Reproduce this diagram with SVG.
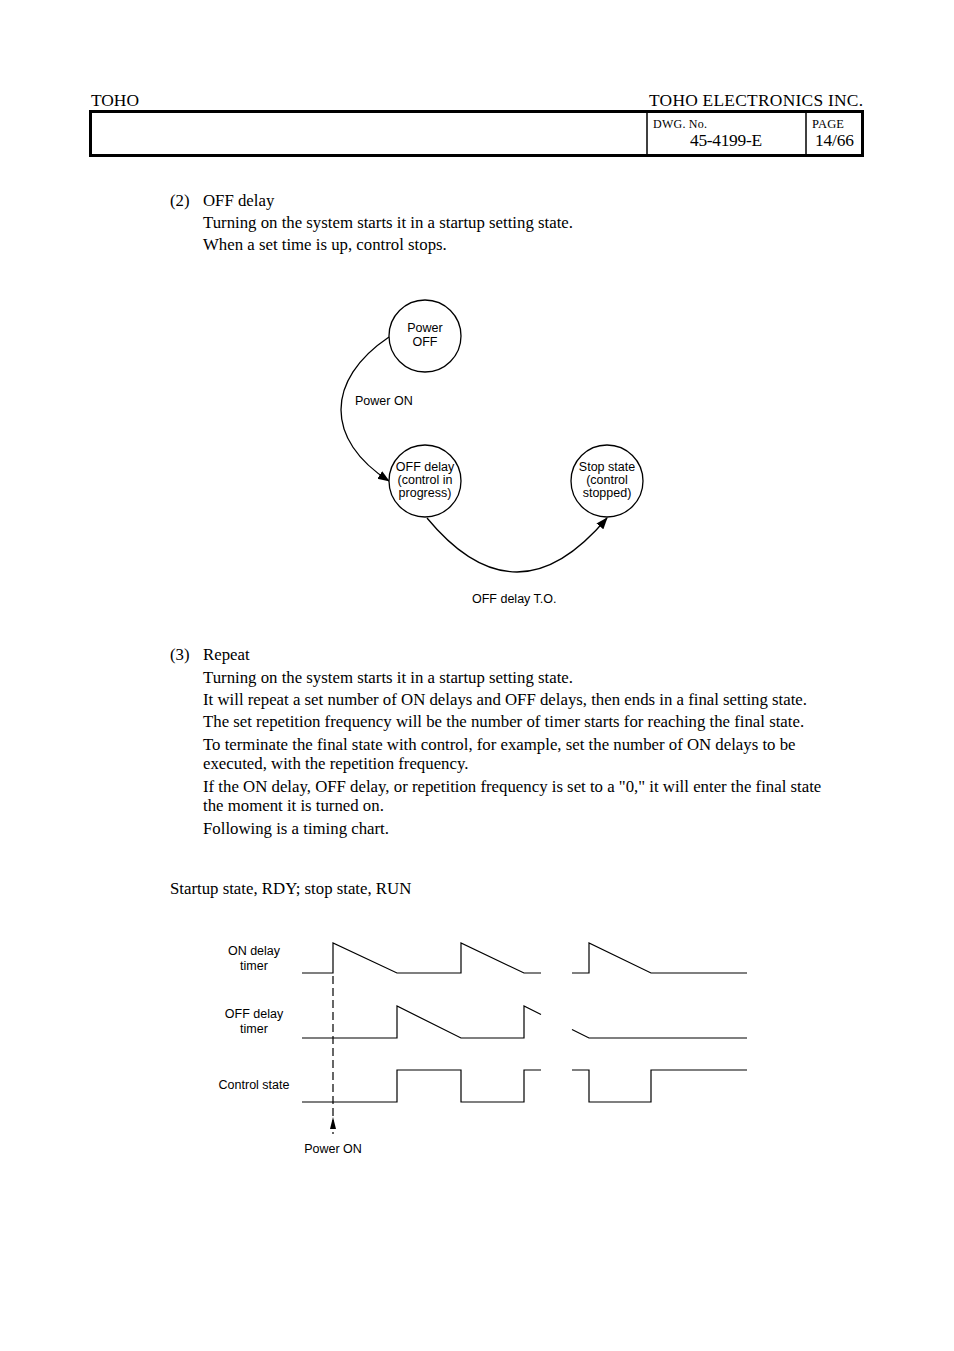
<svg xmlns="http://www.w3.org/2000/svg" width="954" height="1351" viewBox="0 0 954 1351">
<defs>
<style>
.serif{font-family:"Liberation Serif","Times New Roman",serif;fill:#000}
.body{font-size:16.8px}
.hdr{font-size:17.4px}
.sans{font-family:"Liberation Sans",Arial,sans-serif;font-size:12.5px;fill:#000}
.node{fill:#fff;stroke:#000;stroke-width:1.3}
.wire{fill:none;stroke:#000;stroke-width:1.3}
.wave{fill:none;stroke:#000;stroke-width:1.2}
</style>
<marker id="arr" viewBox="0 0 12 10" refX="11" refY="5" markerWidth="12" markerHeight="10" markerUnits="userSpaceOnUse" orient="auto">
<path d="M0,0.5 L12,5 L0,9.5 Z" fill="#000"/>
</marker>
</defs>
<rect width="954" height="1351" fill="#fff"/>

<g id="header">
<text class="serif hdr" x="91" y="106">TOHO</text>
<text class="serif hdr" x="863" y="106" text-anchor="end" textLength="214">TOHO ELECTRONICS INC.</text>
<rect x="90.5" y="111.5" width="772" height="44" fill="none" stroke="#000" stroke-width="3"/>
<line x1="647" y1="111" x2="647" y2="156" stroke="#000" stroke-width="1.5"/>
<line x1="806" y1="111" x2="806" y2="156" stroke="#000" stroke-width="1.5"/>
<text class="serif" x="653" y="128" font-size="12" textLength="54">DWG. No.</text>
<text class="serif hdr" x="690" y="146" textLength="72">45-4199-E</text>
<text class="serif" x="812" y="128" font-size="12.5" textLength="32">PAGE</text>
<text class="serif hdr" x="815" y="146" textLength="39">14/66</text>
</g>

<g id="section2-text">
<text class="serif body" x="170" y="206">(2)</text>
<text class="serif body" x="203" y="206">OFF delay</text>
<text class="serif body" x="203" y="228">Turning on the system starts it in a startup setting state.</text>
<text class="serif body" x="203" y="250">When a set time is up, control stops.</text>
</g>

<g id="connectors">
<path class="wire" d="M389,337 C325,380 325,440 389,481" marker-end="url(#arr)"/>
<path class="wire" d="M427,518 C460,558 490,572 517,572 C550,572 580,550 607,518" marker-end="url(#arr)"/>
<text class="sans" x="355" y="405">Power ON</text>
<text class="sans" x="472" y="603">OFF delay T.O.</text>
</g>

<g id="node-power-off">
<circle class="node" cx="425" cy="336" r="36"/>
<text class="sans" x="425" y="332" text-anchor="middle">Power</text>
<text class="sans" x="425" y="346" text-anchor="middle">OFF</text>
</g>
<g id="node-off-delay">
<circle class="node" cx="425" cy="481" r="36"/>
<text class="sans" x="425" y="471" text-anchor="middle">OFF delay</text>
<text class="sans" x="425" y="484" text-anchor="middle">(control in</text>
<text class="sans" x="425" y="497" text-anchor="middle">progress)</text>
</g>
<g id="node-stop">
<circle class="node" cx="607" cy="481" r="36"/>
<text class="sans" x="607" y="471" text-anchor="middle">Stop state</text>
<text class="sans" x="607" y="484" text-anchor="middle">(control</text>
<text class="sans" x="607" y="497" text-anchor="middle">stopped)</text>
</g>

<g id="section3-text">
<text class="serif body" x="170" y="660">(3)</text>
<text class="serif body" x="203" y="660">Repeat</text>
<text class="serif body" x="203" y="683">Turning on the system starts it in a startup setting state.</text>
<text class="serif body" x="203" y="705">It will repeat a set number of ON delays and OFF delays, then ends in a final setting state.</text>
<text class="serif body" x="203" y="727">The set repetition frequency will be the number of timer starts for reaching the final state.</text>
<text class="serif body" x="203" y="750">To terminate the final state with control, for example, set the number of ON delays to be</text>
<text class="serif body" x="203" y="769">executed, with the repetition frequency.</text>
<text class="serif body" x="203" y="792">If the ON delay, OFF delay, or repetition frequency is set to a "0," it will enter the final state</text>
<text class="serif body" x="203" y="811">the moment it is turned on.</text>
<text class="serif body" x="203" y="834">Following is a timing chart.</text>
<text class="serif body" x="170" y="894">Startup state, RDY; stop state, RUN</text>
</g>

<g id="timing-chart">
<text class="sans" x="254" y="955" text-anchor="middle">ON delay</text>
<text class="sans" x="254" y="970" text-anchor="middle">timer</text>
<text class="sans" x="254" y="1018" text-anchor="middle">OFF delay</text>
<text class="sans" x="254" y="1033" text-anchor="middle">timer</text>
<text class="sans" x="254" y="1089" text-anchor="middle">Control state</text>
<text class="sans" x="333" y="1153" text-anchor="middle">Power ON</text>

<polyline class="wave" points="302,973 333,973 333,943 397,973 461,973 461,943 524,973 541,973"/>
<polyline class="wave" points="572,973 589,973 589,943 651,973 747,973"/>

<polyline class="wave" points="302,1038 397,1038 397,1006 461,1038 524,1038 524,1006 541,1014.5"/>
<polyline class="wave" points="572,1029.5 589,1038 747,1038"/>

<polyline class="wave" points="302,1102 397,1102 397,1070 461,1070 461,1102 524,1102 524,1070 541,1070"/>
<polyline class="wave" points="572,1070 589,1070 589,1102 651,1102 651,1070 747,1070"/>

<line x1="333" y1="976" x2="333" y2="1134" stroke="#000" stroke-width="1.2" stroke-dasharray="8,4"/>
<path d="M333,1117 L330,1129 L336,1129 Z" fill="#000"/>
</g>
</svg>
